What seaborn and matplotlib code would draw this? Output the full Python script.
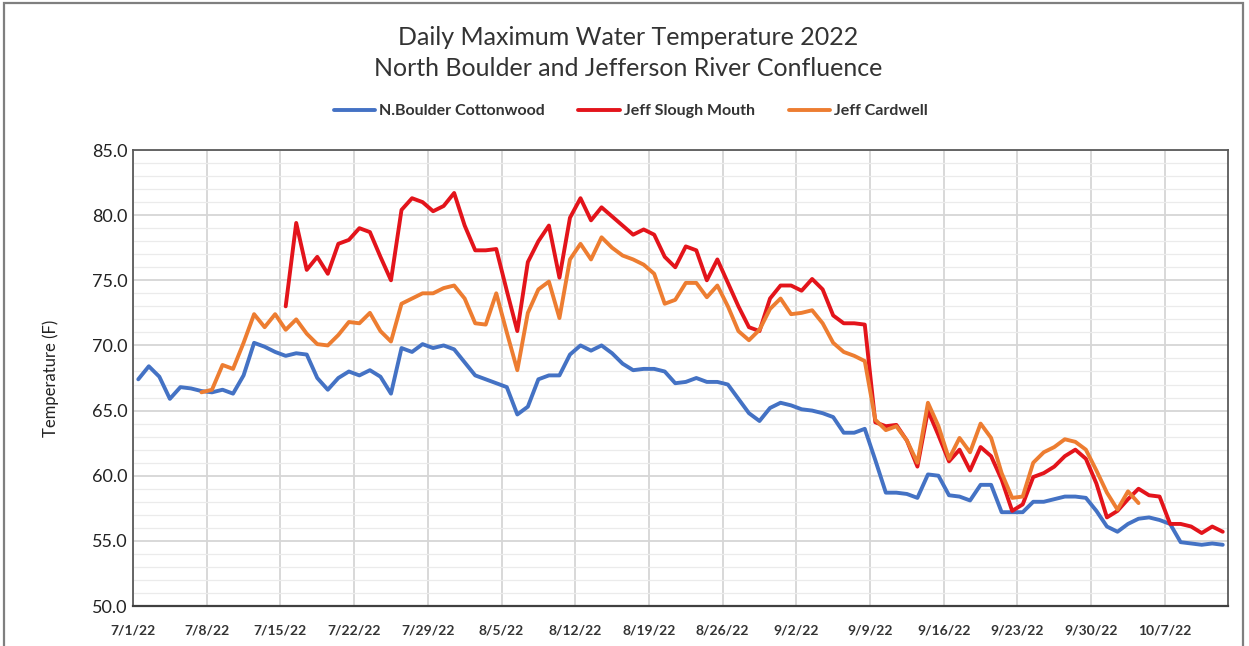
import numpy as np
import pandas as pd
import seaborn as sns
import matplotlib
matplotlib.use("Agg")
import matplotlib.pyplot as plt
from matplotlib.ticker import MultipleLocator, FuncFormatter
from matplotlib.lines import Line2D

# Daily maximum water temperature (F), one value per day from 7/1/22 to 10/12/22
start_date = "2022-07-01"
n_days = 104

north_boulder_cottonwood = [
    67.4, 68.4, 67.6, 65.9, 66.8, 66.7, 66.5, 66.4, 66.6, 66.3,
    67.7, 70.2, 69.9, 69.5, 69.2, 69.4, 69.3, 67.5, 66.6, 67.5,
    68.0, 67.7, 68.1, 67.6, 66.3, 69.8, 69.5, 70.1, 69.8, 70.0,
    69.7, 68.7, 67.7, 67.4, 67.1, 66.8, 64.7, 65.3, 67.4, 67.7,
    67.7, 69.3, 70.0, 69.6, 70.0, 69.4, 68.6, 68.1, 68.2, 68.2,
    68.0, 67.1, 67.2, 67.5, 67.2, 67.2, 67.0, 65.9, 64.8, 64.2,
    65.2, 65.6, 65.4, 65.1, 65.0, 64.8, 64.5, 63.3, 63.3, 63.6,
    61.2, 58.7, 58.7, 58.6, 58.3, 60.1, 60.0, 58.5, 58.4, 58.1,
    59.3, 59.3, 57.2, 57.2, 57.2, 58.0, 58.0, 58.2, 58.4, 58.4,
    58.3, 57.3, 56.1, 55.7, 56.3, 56.7, 56.8, 56.6, 56.3, 54.9,
    54.8, 54.7, 54.8, 54.7,
]

jeff_slough_mouth = [np.nan] * 14 + [
    73.0, 79.4, 75.8, 76.8, 75.5, 77.8, 78.1, 79.0, 78.7, 76.8,
    75.0, 80.4, 81.3, 81.0, 80.3, 80.7, 81.7, 79.2, 77.3, 77.3,
    77.4, 74.2, 71.1, 76.4, 78.0, 79.2, 75.2, 79.8, 81.3, 79.6,
    80.6, 79.9, 79.2, 78.5, 78.9, 78.5, 76.8, 76.0, 77.6, 77.3,
    75.0, 76.6, 74.8, 73.0, 71.4, 71.1, 73.6, 74.6, 74.6, 74.2,
    75.1, 74.3, 72.3, 71.7, 71.7, 71.6, 64.1, 63.8, 63.9, 62.7,
    60.7, 65.0, 63.1, 61.1, 62.0, 60.4, 62.2, 61.5, 59.7, 57.3,
    57.8, 59.9, 60.2, 60.7, 61.5, 62.0, 61.3, 59.4, 56.8, 57.3,
    58.2, 59.0, 58.5, 58.4, 56.3, 56.3, 56.1, 55.6, 56.1, 55.7,
]

jeff_cardwell = [np.nan] * 6 + [
    66.4, 66.6, 68.5, 68.2, 70.2, 72.4, 71.4, 72.4, 71.2, 72.0,
    70.9, 70.1, 70.0, 70.8, 71.8, 71.7, 72.5, 71.1, 70.3, 73.2,
    73.6, 74.0, 74.0, 74.4, 74.6, 73.6, 71.7, 71.6, 74.0, 71.0,
    68.1, 72.5, 74.3, 74.9, 72.1, 76.6, 77.8, 76.6, 78.3, 77.5,
    76.9, 76.6, 76.2, 75.5, 73.2, 73.5, 74.8, 74.8, 73.7, 74.6,
    73.0, 71.1, 70.4, 71.2, 72.8, 73.6, 72.4, 72.5, 72.7, 71.7,
    70.2, 69.5, 69.2, 68.8, 64.3, 63.5, 63.8, 62.7, 61.0, 65.6,
    63.8, 61.3, 62.9, 61.8, 64.0, 62.9, 60.2, 58.3, 58.4, 61.0,
    61.8, 62.2, 62.8, 62.6, 62.0, 60.4, 58.7, 57.4, 58.8, 57.9,
] + [np.nan] * 8

site_names = ["N.Boulder Cottonwood", "Jeff Slough Mouth", "Jeff Cardwell"]
site_colors = ["#4472C4", "#E3141B", "#ED7D31"]

tick_labels = ["7/1/22", "7/8/22", "7/15/22", "7/22/22", "7/29/22", "8/5/22",
               "8/12/22", "8/19/22", "8/26/22", "9/2/22", "9/9/22", "9/16/22",
               "9/23/22", "9/30/22", "10/7/22"]

# Long-form table: each day sits in the middle of its one-day slot
days = np.arange(n_days)
frames = []
for name, vals in zip(site_names, [north_boulder_cottonwood, jeff_slough_mouth, jeff_cardwell]):
    frames.append(pd.DataFrame({"pos": days + 0.5, "temp": vals, "site": name}))
df = pd.concat(frames, ignore_index=True).dropna()

sns.set_theme(style="white")
plt.rcParams["font.family"] = ["Lato", "DejaVu Sans"]

fig = plt.figure(figsize=(12.49, 6.46), dpi=100)
ax = fig.add_axes([0.1065, 0.0619, 0.8767, 0.7059])

sns.lineplot(data=df, x="pos", y="temp", hue="site", hue_order=site_names,
             palette=site_colors, linewidth=2.8, sort=False, estimator=None,
             legend=False, ax=ax, zorder=3)

ax.set_xlim(0, n_days)
ax.set_ylim(50, 85)
ax.yaxis.set_major_locator(MultipleLocator(5))
ax.yaxis.set_minor_locator(MultipleLocator(1))
ax.yaxis.set_major_formatter(FuncFormatter(lambda v, p: f"{v:.1f}"))
ax.set_xticks(np.arange(0, n_days, 7))
ax.set_xticklabels(tick_labels, fontsize=10, fontweight="bold", color="#333333")
ax.tick_params(axis="x", length=0, pad=13)
ax.tick_params(axis="y", length=0, pad=4, labelsize=13, labelcolor="#222222")

ax.grid(which="major", axis="both", color="#D6D6D6", linewidth=1.3, zorder=0)
ax.grid(which="minor", axis="y", color="#EBEBEB", linewidth=0.9, zorder=0)
ax.set_axisbelow(True)

ax.set_xlabel("")
ax.set_ylabel("Temperature (F)", fontsize=12, color="#222222", labelpad=24)

for side in ["top", "left", "right"]:
    ax.spines[side].set_visible(True)
    ax.spines[side].set_color("#5A5A5A")
    ax.spines[side].set_linewidth(1.3)
    ax.spines[side].set_linestyle((0, (2.0, 1.0)))
ax.spines["bottom"].set_color("#404040")
ax.spines["bottom"].set_linewidth(1.6)

fig.text(0.503, 0.942, "Daily Maximum Water Temperature 2022", ha="center",
         va="center", fontsize=18, color="#333333")
fig.text(0.503, 0.894, "North Boulder and Jefferson River Confluence", ha="center",
         va="center", fontsize=18, color="#333333")

handles = [Line2D([0], [0], color=c, linewidth=2.8) for c in site_colors]
fig.legend(handles, site_names, loc="center", bbox_to_anchor=(0.505, 0.828),
           ncol=3, frameon=False, handlelength=2.6, columnspacing=2.1,
           handletextpad=0.25, prop={"size": 11.5, "weight": "bold"},
           labelcolor="#333333")

# Outer chart frame
frame = plt.Rectangle((4 / 1249, -0.01), 1239 / 1249, 1.0 - 3 / 646 + 0.01,
                      transform=fig.transFigure, fill=False,
                      edgecolor="#7F7F7F", linewidth=1.6)
fig.add_artist(frame)

fig.savefig("out.png", dpi=100)
